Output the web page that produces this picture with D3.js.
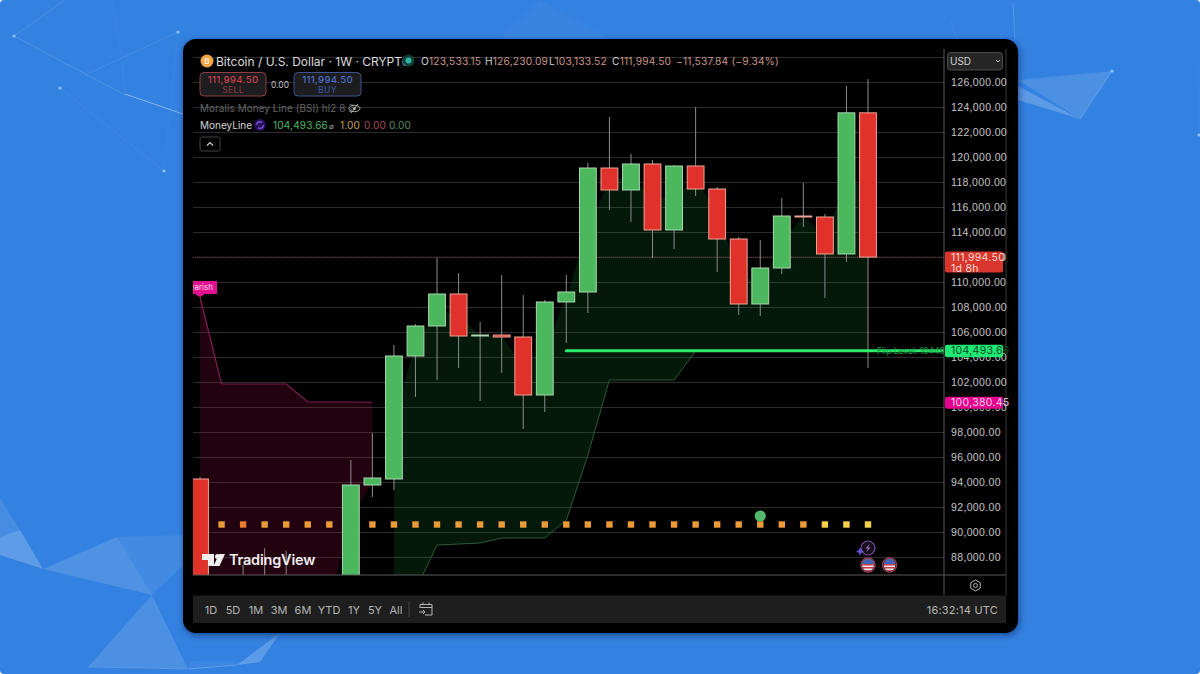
<!DOCTYPE html>
<html lang="en">
<head>
<meta charset="UTF-8">
<title>Bitcoin / U.S. Dollar 1W</title>
<script src="https://d3js.org/d3.v7.min.js"></script>
<style>
    html, body { margin: 0; padding: 0; background: #fff; }
    svg { display: block; font-family: Inter, "Noto Sans", sans-serif; }
    .grid line { stroke: #2c2c2c; stroke-width: 1; }
    .grid path { display: none; }
    .price-axis path, .time-axis path { display: none; }
    .price-axis line, .time-axis line { display: none; }
    .price-axis text { fill: #c6c6c6; font-size: 10.5px; letter-spacing: 0.35px; }
    .time-axis text { fill: #bdbdbd; font-size: 10.5px; }
    .range text { fill: #b4b4b4; font-size: 11px; text-anchor: middle; }
</style>
</head>
<body>
<div id="chart"></div>
<script>
// weekly candles (0 = first week of Mar)
const opens  = [94240, 80700, 82500, 86000, 82300, 83700, 83700, 85200, 93760, 94240, 104080, 106480, 109040, 105680, 105760, 105600, 100960, 108400, 109200, 119120, 117360, 119440, 114160, 119280, 117440, 113440, 108240, 111120, 115280, 115200, 112240, 123533.15];
const highs  = [94400, 84000, 87400, 88700, 88500, 86100, 85500, 95760, 97920, 104960, 106640, 111920, 110720, 106800, 110560, 108960, 108560, 110560, 119520, 123200, 120240, 119760, 119360, 124000, 117600, 113600, 113360, 116720, 117920, 115440, 125680, 126230.09];
const lows   = [78200, 76600, 81100, 81600, 81200, 74400, 83000, 83500, 92800, 93360, 100800, 102160, 103120, 100480, 102720, 98240, 99600, 105120, 107520, 115760, 114800, 111920, 112640, 116880, 110800, 107360, 107280, 110640, 114400, 108720, 111600, 103133.52];
const closes = [80700, 82500, 86000, 82300, 83700, 83700, 85200, 93760, 94320, 104080, 106480, 109040, 105680, 105760, 105600, 100960, 108400, 109200, 119120, 117360, 119440, 114160, 119280, 117440, 113440, 108240, 111120, 115280, 115200, 112240, 123533.15, 111994.5];

// money line bands
const bearWeeks = [0, 1, 2, 3, 4, 5, 6, 7, 8];
const bearLine  = [108800, 101840, 101840, 101840, 101840, 100400, 100400, 100400, 100380.45];
const bearBase  = [87470, 81600, 84250, 84150, 83000, 83700, 84450, 91000, 94040];
const bullWeeks = [9, 10, 11, 12, 13, 14, 15, 16, 17, 18, 19, 20, 21, 22, 23, 24, 25, 26, 27, 28, 29, 30, 31];
const bullLine  = [81360, 85360, 88960, 89040, 89120, 89520, 89520, 89520, 90960, 96160, 102160, 102160, 102160, 102160, 104493.66, 104493.66, 104493.66, 104493.66, 104493.66, 104493.66, 104493.66, 104493.66, 104493.66];
const bullBase  = [99160, 105000, 107760, 107360, 105720, 105660, 103280, 104680, 108800, 114160, 118240, 118400, 116800, 116720, 118360, 115440, 110840, 109680, 113200, 115240, 113720, 117880, 117760];

// row of squares under the candles: 0 orange, 1 deep orange, 2 yellow
const dotLevels = [0, 0, 1, 0, 0, 0, 0, 0, 0, 0, 0, 0, 0, 0, 0, 0, 0, 0, 0, 0, 0, 0, 0, 0, 0, 0, 0, 0, 0, 2, 2, 2];

const priceTicks = [88000, 90000, 92000, 94000, 96000, 98000, 100000, 102000, 104000, 106000, 108000, 110000, 112000, 114000, 116000, 118000, 120000, 122000, 124000, 126000];
const gridPrices = priceTicks.concat([128000]);
const timeWeeks  = [0, 2, 5, 7, 9, 11, 13, 15, 18, 20, 22, 24, 26, 28, 31, 33];
const timeLabels = ["Mar", "17", "Apr", "21", "May", "19", "Jun", "16", "Jul", "21", "Aug", "18", "Sep", "15", "Oct", "20"];
const monthLabels = ["Mar", "Apr", "May", "Jun", "Jul", "Aug", "Sep", "Oct"];
const rangeLabels = ["1D", "5D", "1M", "3M", "6M", "YTD", "1Y", "5Y", "All"];
const rangeX = [211, 233, 256, 279, 303, 329, 354, 375, 396];

const lastPrice = 111994.5;
const flipLevel = 104493.66;
const bearLevel = 100380.45;

const width = 1200, height = 674;
const plot = { left: 193, right: 944, top: 49, bottom: 575 };

const svg = d3.select("#chart").append("svg").attr("width", width).attr("height", height);
const defs = svg.append("defs");

const x = d3.scaleLinear().domain([0, 31]).range([200, 868]);
const y = d3.scaleLinear().domain([88000, 126000]).range([557, 82]);
const week = x(1) - x(0);
const candleW = week * 0.78;

// background
svg.append("rect").attr("width", width).attr("height", height).attr("rx", 4).attr("fill", "#3381e0");

const shards = [
    [[[0, 537], [20, 530], [43, 569], [0, 555]], 0.22],
    [[[0, 498], [20, 530], [0, 537]], 0.09],
    [[[43, 569], [117, 537], [152, 595]], 0.14],
    [[[117, 537], [183, 535], [183, 565], [152, 595]], 0.08],
    [[[152, 595], [88, 667], [188, 669]], 0.12],
    [[[237, 665], [280, 633], [260, 662]], 0.2],
    [[[188, 669], [237, 665], [260, 662], [190, 661]], 0.05],
    [[[1018, 80], [1112, 71], [1080, 119]], 0.12],
    [[[1018, 86], [1080, 119], [1018, 100]], 0.2],
    [[[540, 0], [610, 39], [500, 39]], 0.03]
];
svg.append("g").selectAll("polygon").data(shards).enter().append("polygon")
    .attr("points", d => d[0].join(" "))
    .attr("fill", "#fff")
    .attr("fill-opacity", d => d[1]);

const threads = [
    [14, 36, 65, 0, 0.18], [14, 36, 125, 95, 0.22], [125, 94, 183, 114, 0.6], [85, 75, 178, 32, 0.14],
    [112, 0, 122, 60, 0.07], [122, 60, 125, 95, 0.07], [60, 88, 164, 171, 0.1], [178, 32, 164, 171, 0.05],
    [1112, 71, 1080, 119, 0.3], [1013, 3, 1015, 39, 0.25], [950, 20, 957, 39, 0.1], [1199, 135, 1198, 60, 0.06],
    [88, 667, 188, 669, 0.2], [188, 669, 237, 665, 0.3]
];
svg.append("g").selectAll("line").data(threads).enter().append("line")
    .attr("x1", d => d[0]).attr("y1", d => d[1]).attr("x2", d => d[2]).attr("y2", d => d[3])
    .attr("stroke", "#bcd8ff").attr("stroke-opacity", d => d[4]);
svg.append("g").selectAll("circle").data([[14, 36], [178, 32], [60, 88], [164, 171], [1112, 71], [1199, 135]]).enter().append("circle")
    .attr("cx", d => d[0]).attr("cy", d => d[1]).attr("r", 1.6).attr("fill", "#8fc0ff");

// card
defs.append("filter").attr("id", "cardShadow").attr("x", "-5%").attr("y", "-5%").attr("width", "110%").attr("height", "110%")
    .append("feDropShadow").attr("dx", 1).attr("dy", 2).attr("stdDeviation", 3).attr("flood-color", "#06224d").attr("flood-opacity", 0.6);
svg.append("rect").attr("x", 183).attr("y", 39).attr("width", 835).attr("height", 594).attr("rx", 13)
    .attr("fill", "#000").attr("filter", "url(#cardShadow)");

defs.append("clipPath").attr("id", "plotClip").append("rect")
    .attr("x", plot.left).attr("y", plot.top).attr("width", plot.right - plot.left).attr("height", plot.bottom - plot.top);
defs.append("clipPath").attr("id", "timeClip").append("rect")
    .attr("x", plot.left).attr("y", plot.bottom).attr("width", plot.right - plot.left).attr("height", 20);

// grid
svg.append("g").attr("class", "grid")
    .attr("transform", `translate(${plot.left},0)`)
    .call(d3.axisLeft(y).tickValues(gridPrices).tickSize(-(plot.right - plot.left)).tickFormat(""));
svg.append("g").attr("class", "grid").attr("clip-path", "url(#plotClip)")
    .attr("transform", `translate(0,${plot.bottom})`)
    .call(d3.axisTop(x).tickValues(timeWeeks).tickSize(plot.bottom - plot.top).tickFormat(""));

const chart = svg.append("g").attr("clip-path", "url(#plotClip)");

// bands
const bearArea = d3.area().x((d, i) => x(bearWeeks[i])).y0((d, i) => y(bearBase[i])).y1(d => y(d));
const bullArea = d3.area().x((d, i) => x(bullWeeks[i])).y0((d, i) => y(bullBase[i])).y1(d => y(d));
chart.append("path").datum(bearLine).attr("d", bearArea).attr("fill", "rgba(215,10,95,0.16)");
chart.append("path").datum(bullLine).attr("d", bullArea).attr("fill", "rgba(30,170,70,0.15)");
chart.append("path").datum(bearLine)
    .attr("d", d3.line().x((d, i) => x(bearWeeks[i])).y(d => y(d)))
    .attr("fill", "none").attr("stroke", "#7d1f52").attr("stroke-width", 1.2);
chart.append("path").datum(bullLine)
    .attr("d", d3.line().x((d, i) => x(bullWeeks[i])).y(d => y(d)))
    .attr("fill", "none").attr("stroke", "#2c5a38").attr("stroke-width", 1);

// last price line
chart.append("line").attr("x1", plot.left).attr("x2", plot.right)
    .attr("y1", y(lastPrice)).attr("y2", y(lastPrice))
    .attr("stroke", "#6d3434").attr("stroke-dasharray", "1 1");

// squares and the green marker
const dotColor = d3.scaleOrdinal().domain([0, 1, 2]).range(["#eb9a38", "#ea7a2c", "#f4d04a"]);
chart.append("g").selectAll("rect").data(dotLevels).enter().append("rect")
    .attr("x", (d, i) => x(i) - 3.2).attr("y", y(90600) - 3.2)
    .attr("width", 6.4).attr("height", 6.4)
    .attr("fill", d => dotColor(d));
chart.append("circle").attr("cx", x(26)).attr("cy", y(91280)).attr("r", 5.6).attr("fill", "#52b96c");

// candles
const candles = opens.map((o, i) => ({ i, o, h: highs[i], l: lows[i], c: closes[i] }));
const candleG = chart.append("g").selectAll("g").data(candles).enter().append("g");
candleG.append("line")
    .attr("x1", d => x(d.i)).attr("x2", d => x(d.i))
    .attr("y1", d => y(d.h)).attr("y2", d => y(d.l))
    .attr("stroke", "#8b8b8b").attr("stroke-width", 1);
candleG.append("rect")
    .attr("x", d => x(d.i) - candleW / 2)
    .attr("y", d => y(Math.max(d.o, d.c)))
    .attr("width", candleW)
    .attr("height", d => Math.max(Math.abs(y(d.o) - y(d.c)), 1))
    .attr("fill", d => d.c >= d.o ? "#4cb85e" : "#e0312a")
    .attr("stroke", d => d.c >= d.o ? "#a9d6b0" : "#eea596")
    .attr("stroke-width", 1);

// flip level
chart.append("line").attr("x1", x(17)).attr("x2", plot.right)
    .attr("y1", y(flipLevel)).attr("y2", y(flipLevel))
    .attr("stroke", "#2dec6c").attr("stroke-width", 3).attr("stroke-linecap", "round");
chart.append("text").attr("x", 877).attr("y", y(flipLevel) + 3)
    .attr("font-size", 8.5).attr("fill", "#169a45").text("Flip Level: 104493.66");

// bearish flag, cut by the left edge
const flag = chart.append("g");
flag.append("path").attr("d", `M${plot.left},${y(108800) - 16}H217V${y(108800) - 3}H205L${x(0)},${y(108800)}L195,${y(108800) - 3}H${plot.left}Z`)
    .attr("fill", "#e2108f");
flag.append("text").attr("x", 213).attr("y", y(108800) - 7).attr("text-anchor", "end")
    .attr("font-size", 8).attr("fill", "#ffd9ef").text("bearish");

// event bubbles
function usFlag(cx, cy, id) {
    const g = svg.append("g");
    defs.append("clipPath").attr("id", id).append("circle").attr("cx", cx).attr("cy", cy).attr("r", 6);
    const inner = g.append("g").attr("clip-path", `url(#${id})`);
    inner.append("rect").attr("x", cx - 6).attr("y", cy - 6).attr("width", 12).attr("height", 12).attr("fill", "#e8e4e6");
    d3.range(0, 3).forEach(k => inner.append("rect").attr("x", cx - 6).attr("y", cy - 1 + k * 3).attr("width", 12).attr("height", 1.5).attr("fill", "#c83c4a"));
    inner.append("rect").attr("x", cx - 6).attr("y", cy - 6).attr("width", 12).attr("height", 5).attr("fill", "#3e62b5");
    g.append("circle").attr("cx", cx).attr("cy", cy).attr("r", 7).attr("fill", "none").attr("stroke", "#8c3f50").attr("stroke-width", 1.5);
}
svg.append("circle").attr("cx", x(31)).attr("cy", 548).attr("r", 7).attr("fill", "#16101c").attr("stroke", "#7a4f9e").attr("stroke-width", 1.2);
svg.append("path").attr("d", `M${x(31) + 2},543.5L${x(31) - 2.5},548.5H${x(31)}L${x(31) - 2},552.5L${x(31) + 2.5},547.5H${x(31)}Z`).attr("fill", "#9a72b8");
svg.append("path").attr("d", `M${x(31) - 8},547.5L${x(31) - 6.8},550.3L${x(31) - 4},551.5L${x(31) - 6.8},552.7L${x(31) - 8},555.5L${x(31) - 9.2},552.7L${x(31) - 12},551.5L${x(31) - 9.2},550.3Z`).attr("fill", "#6a55d8");
usFlag(x(31), 565, "flagA");
usFlag(x(32), 565, "flagB");

// axis frame
svg.append("line").attr("x1", plot.left).attr("x2", 1006).attr("y1", plot.bottom).attr("y2", plot.bottom).attr("stroke", "#5a5a5a");
svg.append("line").attr("x1", plot.right).attr("x2", plot.right).attr("y1", plot.top).attr("y2", 595).attr("stroke", "#5a5a5a");
svg.append("line").attr("x1", 1006).attr("x2", 1006).attr("y1", plot.top).attr("y2", 595).attr("stroke", "#3a3a3a");

// price axis
svg.append("g").attr("class", "price-axis")
    .attr("transform", `translate(${plot.right},0)`)
    .call(d3.axisRight(y).tickValues(priceTicks).tickSize(0).tickPadding(7).tickFormat(d => d3.format(",.2f")(d)));

// time axis
const timeAxis = svg.append("g").attr("class", "time-axis").attr("clip-path", "url(#timeClip)")
    .attr("transform", `translate(0,${plot.bottom})`)
    .call(d3.axisBottom(x).tickValues(timeWeeks).tickSize(0).tickPadding(5).tickFormat((d, i) => timeLabels[i]));
timeAxis.selectAll("text")
    .attr("font-weight", (d, i) => monthLabels.includes(timeLabels[i]) ? 600 : 400)
    .style("fill", (d, i) => monthLabels.includes(timeLabels[i]) ? "#d0d0d0" : "#a8a8a8");

// price tags
function priceTag(top, h, fill, color, lines) {
    svg.append("rect").attr("x", 945).attr("y", top).attr("width", 58).attr("height", h).attr("rx", 2).attr("fill", fill);
    lines.forEach((t, k) => svg.append("text").attr("x", 951).attr("y", top + 9.5 + k * 10.5)
        .attr("font-size", 10.5).attr("letter-spacing", 0.3).attr("fill", color).text(t));
}
priceTag(y(lastPrice) - 5.5, 21, "#d8362d", "#fbdcd4", [d3.format(",.2f")(lastPrice), "1d 8h"]);
priceTag(y(flipLevel) - 6, 12.5, "#1ee873", "#0b4a24", [d3.format(",.2f")(flipLevel)]);
priceTag(y(bearLevel) - 5.5, 12, "#e5008d", "#ffd3ee", [d3.format(",.2f")(bearLevel)]);

// watermark
const mark = svg.append("g").attr("fill", "#eeeeee");
mark.append("path").attr("d", "M202,554H214V566H208V560H202Z");
mark.append("circle").attr("cx", 217.5).attr("cy", 556.6).attr("r", 2.5);
mark.append("path").attr("d", "M219,554H225L219.5,566H213.5Z");
mark.append("text").attr("x", 229).attr("y", 565).attr("font-size", 14.5).attr("font-weight", 600).attr("letter-spacing", -0.2).text("TradingView");

// header
svg.append("circle").attr("cx", 207).attr("cy", 61).attr("r", 6.5).attr("fill", "#f0a446");
svg.append("text").attr("x", 207).attr("y", 64).attr("text-anchor", "middle").attr("font-size", 8).attr("font-weight", 700).attr("fill", "#fde6c4").text("B");
svg.append("text").attr("x", 216).attr("y", 65.5).attr("font-size", 12).attr("fill", "#dcdcdc").text("Bitcoin / U.S. Dollar · 1W · CRYPTO");
svg.append("circle").attr("cx", 408.5).attr("cy", 60.5).attr("r", 6).attr("fill", "#113f38");
svg.append("circle").attr("cx", 408.5).attr("cy", 60.5).attr("r", 3).attr("fill", "#2cb5a0");

const ohlc = [["O", "123,533.15", 421], ["H", "126,230.09", 485], ["L", "103,133.52", 549], ["C", "111,994.50", 612]];
ohlc.forEach(d => {
    const t = svg.append("text").attr("x", d[2]).attr("y", 64.5).attr("font-size", 10.2).attr("letter-spacing", 0.2);
    t.append("tspan").attr("fill", "#cfcfcf").text(d[0]);
    t.append("tspan").attr("fill", "#c99586").text(d[1]);
});
svg.append("text").attr("x", 676).attr("y", 64.5).attr("font-size", 10.2).attr("letter-spacing", 0.2).attr("fill", "#c99586").text("−11,537.84 (−9.34%)");

// sell / buy
function tradeBox(left, w, stroke, valColor, subColor, label) {
    svg.append("rect").attr("x", left).attr("y", 72.5).attr("width", w).attr("height", 23.5).attr("rx", 4)
        .attr("fill", "#1d1d20").attr("stroke", stroke);
    svg.append("text").attr("x", left + w / 2).attr("y", 83).attr("text-anchor", "middle").attr("font-size", 9.6).attr("font-weight", 500).attr("letter-spacing", 0.3).attr("fill", valColor).text("111,994.50");
    svg.append("text").attr("x", left + w / 2).attr("y", 93).attr("text-anchor", "middle").attr("font-size", 8.6).attr("letter-spacing", 0.3).attr("fill", subColor).text(label);
}
tradeBox(200, 66, "#8f3e45", "#c8414a", "#8f3a40", "SELL");
tradeBox(294, 67, "#3c558f", "#4d70c9", "#3c5aa6", "BUY");
svg.append("text").attr("x", 280).attr("y", 87.5).attr("text-anchor", "middle").attr("font-size", 8.4).attr("fill", "#c4c4c4").text("0.00");

// indicator rows
svg.append("text").attr("x", 200).attr("y", 112).attr("font-size", 9.9).attr("letter-spacing", 0.1).attr("fill", "#656565").text("Moralis Money Line (BSI) hl2 8 2");
svg.append("ellipse").attr("cx", 354.5).attr("cy", 108.5).attr("rx", 5.5).attr("ry", 3.2).attr("fill", "none").attr("stroke", "#b0b0b0");
svg.append("circle").attr("cx", 354.5).attr("cy", 108.5).attr("r", 1.5).attr("fill", "#b0b0b0");
svg.append("line").attr("x1", 351).attr("y1", 113).attr("x2", 358).attr("y2", 104).attr("stroke", "#b0b0b0");

svg.append("text").attr("x", 200).attr("y", 129).attr("font-size", 10).attr("fill", "#d6d6d6").text("MoneyLine");
svg.append("circle").attr("cx", 260).attr("cy", 125).attr("r", 6).attr("fill", "#25125a");
svg.append("circle").attr("cx", 260).attr("cy", 125).attr("r", 3.3).attr("fill", "none").attr("stroke", "#7a55e0").attr("stroke-width", 1.4).attr("stroke-dasharray", "7 3.4");
const legendVals = [["104,493.66", 273, "#4cb866"], ["1.00", 340, "#cda455"], ["0.00", 364, "#a44c4c"], ["0.00", 389, "#5f8a62"]];
legendVals.forEach(d => svg.append("text").attr("x", d[1]).attr("y", 129).attr("font-size", 10).attr("letter-spacing", 0.2).attr("fill", d[2]).text(d[0]));
svg.append("text").attr("x", 331).attr("y", 128.5).attr("font-size", 8).attr("text-anchor", "middle").attr("fill", "#a0a0a0").text("⌀");

svg.append("rect").attr("x", 200).attr("y", 137).attr("width", 20).attr("height", 14).attr("rx", 2).attr("fill", "#000").attr("stroke", "#444");
svg.append("path").attr("d", "M207,145.5L210,142.5L213,145.5").attr("fill", "none").attr("stroke", "#d0d0d0").attr("stroke-width", 1.2);

// USD box and settings
svg.append("rect").attr("x", 947.5).attr("y", 52.5).attr("width", 55).attr("height", 17.5).attr("rx", 3).attr("fill", "#262626").attr("stroke", "#4e4e4e");
svg.append("text").attr("x", 950).attr("y", 65).attr("font-size", 10).attr("fill", "#d4d4d4").text("USD");
svg.append("path").attr("d", "M996,60L998,62L1000,60").attr("fill", "none").attr("stroke", "#c0c0c0");
svg.append("path").attr("d", d3.range(6).map(k => {
    const a = Math.PI / 3 * k - Math.PI / 2;
    return (k ? "L" : "M") + (975.5 + 5.5 * Math.cos(a)) + "," + (585.5 + 5.5 * Math.sin(a));
}).join("") + "Z").attr("fill", "none").attr("stroke", "#b5b5b5");
svg.append("circle").attr("cx", 975.5).attr("cy", 585.5).attr("r", 2).attr("fill", "none").attr("stroke", "#b5b5b5");

// range bar
svg.append("rect").attr("x", plot.left).attr("y", 595.5).attr("width", 813).attr("height", 27.5).attr("fill", "#1e1e1e");
const range = svg.append("g").attr("class", "range");
range.selectAll("text").data(rangeLabels).enter().append("text")
    .attr("x", (d, i) => rangeX[i]).attr("y", 613.5).text(d => d);
svg.append("line").attr("x1", 409).attr("x2", 409).attr("y1", 602).attr("y2", 617).attr("stroke", "#4a4a4a");
svg.append("path").attr("d", "M420,608V604.5H432V615H425M420,607.5H432M423,602.5V605M429,602.5V605M419,612H425M423,610L425,612L423,614")
    .attr("fill", "none").attr("stroke", "#b4b4b4");
svg.append("text").attr("x", 998).attr("y", 613.5).attr("text-anchor", "end").attr("font-size", 11).attr("letter-spacing", 0.2).attr("fill", "#b8b8b8").text("16:32:14 UTC");
</script>
</body>
</html>
